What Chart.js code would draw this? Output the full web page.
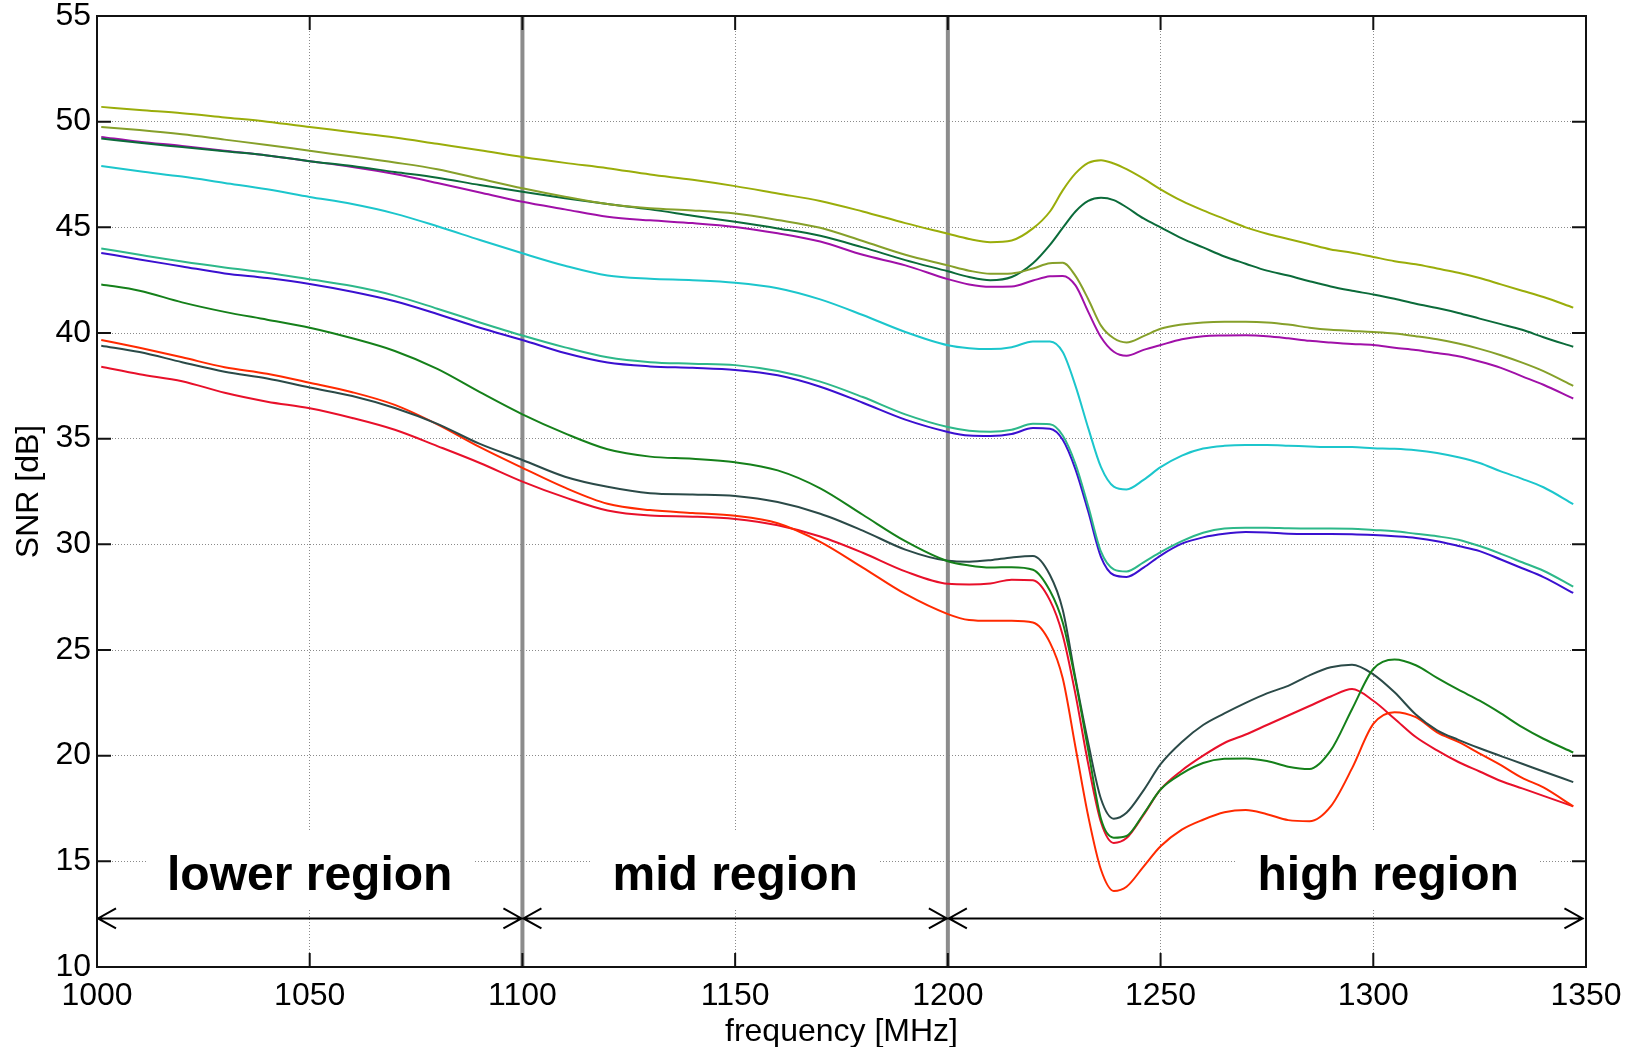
<!DOCTYPE html>
<html>
<head>
<meta charset="utf-8">
<title>SNR vs frequency</title>
<script src="https://cdn.jsdelivr.net/npm/chart.js@4.4.1/dist/chart.umd.min.js"></script>
<style>
    body { margin: 0; background: #fff; }
    canvas { display: block; }
</style>
</head>
<body>
<canvas id="snrChart" width="1640" height="1047"></canvas>
<script>
// Frequency points (MHz) shared by all curves
const freq = [1001, 1010, 1020, 1030, 1040, 1050, 1060, 1070, 1080, 1090,
    1100, 1110, 1120, 1130, 1140, 1150, 1160, 1170, 1180, 1190,
    1200, 1205, 1210, 1215, 1220, 1224, 1227, 1230, 1233, 1236,
    1239, 1242, 1246, 1250, 1255, 1260, 1265, 1270, 1275, 1280,
    1285, 1290, 1295, 1300, 1305, 1310, 1315, 1320, 1325, 1330,
    1335, 1340, 1347];

// SNR curves in dB
const snrYellow = [50.7, 50.55, 50.4, 50.2, 50.0, 49.75, 49.5, 49.25, 48.95, 48.65,
    48.33, 48.05, 47.8, 47.5, 47.25, 46.95, 46.6, 46.25, 45.75, 45.2,
    44.7, 44.45, 44.3, 44.38, 44.95, 45.75, 46.75, 47.55, 48.05, 48.18,
    48.02, 47.75, 47.3, 46.8, 46.25, 45.8, 45.4, 45.0, 44.7, 44.45,
    44.2, 43.95, 43.8, 43.6, 43.4, 43.25, 43.05, 42.85, 42.6, 42.3,
    42.0, 41.7, 41.2];
const snrOlive = [49.75, 49.6, 49.4, 49.15, 48.9, 48.62, 48.35, 48.07, 47.75, 47.3,
    46.85, 46.45, 46.1, 45.9, 45.8, 45.65, 45.35, 44.98, 44.35, 43.7,
    43.2, 42.95, 42.8, 42.82, 43.05, 43.3, 43.32, 42.7, 41.6, 40.35,
    39.75, 39.55, 39.85, 40.2, 40.4, 40.5, 40.53, 40.53, 40.5, 40.4,
    40.25, 40.15, 40.1, 40.05, 39.98, 39.85, 39.7, 39.5, 39.25, 38.95,
    38.6, 38.2, 37.5];
const snrDarkGreen = [49.2, 49.0, 48.8, 48.6, 48.4, 48.13, 47.9, 47.62, 47.35, 47.0,
    46.68, 46.38, 46.1, 45.85, 45.55, 45.26, 44.95, 44.6, 44.05, 43.45,
    42.92, 42.65, 42.5, 42.65, 43.3, 44.17, 44.97, 45.75, 46.25, 46.4,
    46.29, 45.95, 45.42, 45.0, 44.48, 44.05, 43.62, 43.28, 42.95, 42.72,
    42.45, 42.2, 42.0, 41.82, 41.62, 41.38, 41.18, 40.95, 40.68, 40.42,
    40.15, 39.8, 39.35];
const snrPurple = [49.28, 49.05, 48.85, 48.62, 48.4, 48.13, 47.85, 47.52, 47.1, 46.65,
    46.21, 45.85, 45.5, 45.33, 45.2, 45.02, 44.72, 44.33, 43.7, 43.2,
    42.55, 42.3, 42.19, 42.2, 42.48, 42.68, 42.7, 42.25, 41.0, 39.8,
    39.11, 38.92, 39.2, 39.43, 39.7, 39.85, 39.88, 39.89, 39.85, 39.75,
    39.63, 39.55, 39.48, 39.43, 39.3, 39.2, 39.05, 38.9, 38.65, 38.35,
    37.95, 37.55, 36.9];
const snrCyan = [47.9, 47.65, 47.4, 47.1, 46.8, 46.44, 46.1, 45.65, 45.05, 44.4,
    43.77, 43.18, 42.72, 42.57, 42.5, 42.38, 42.12, 41.59, 40.85, 40.05,
    39.42, 39.28, 39.24, 39.33, 39.6, 39.6, 39.1, 37.5, 35.5, 33.65,
    32.73, 32.6, 33.05, 33.65, 34.2, 34.53, 34.66, 34.7, 34.7, 34.67,
    34.63, 34.6, 34.6, 34.55, 34.52, 34.45, 34.32, 34.12, 33.85, 33.45,
    33.1, 32.7, 31.9];
const snrTeal = [44.0, 43.7, 43.38, 43.1, 42.85, 42.54, 42.22, 41.77, 41.15, 40.5,
    39.88, 39.32, 38.85, 38.62, 38.55, 38.48, 38.2, 37.7, 36.97, 36.15,
    35.55, 35.38, 35.33, 35.42, 35.7, 35.68, 35.15, 33.8, 31.8, 29.65,
    28.82, 28.72, 29.15, 29.63, 30.15, 30.55, 30.75, 30.78, 30.78, 30.76,
    30.75, 30.75, 30.74, 30.68, 30.62, 30.5, 30.38, 30.22, 29.92, 29.55,
    29.15, 28.75, 28.0];
const snrBlue = [43.79, 43.48, 43.15, 42.82, 42.6, 42.32, 41.95, 41.5, 40.9, 40.25,
    39.67, 39.05, 38.6, 38.42, 38.35, 38.25, 38.0, 37.46, 36.7, 35.9,
    35.32, 35.15, 35.13, 35.22, 35.5, 35.47, 34.95, 33.55, 31.55, 29.4,
    28.55, 28.46, 28.9, 29.47, 30.03, 30.33, 30.5, 30.58, 30.56, 30.5,
    30.49, 30.49, 30.48, 30.44, 30.38, 30.3, 30.15, 29.92, 29.68, 29.28,
    28.87, 28.45, 27.7];
const snrGreen = [42.3, 42.0, 41.45, 41.0, 40.63, 40.25, 39.75, 39.15, 38.3, 37.2,
    36.15, 35.25, 34.5, 34.15, 34.05, 33.88, 33.5, 32.65, 31.4, 30.15,
    29.2, 29.0, 28.9, 28.92, 28.8, 27.8, 26.3, 23.55, 20.25, 17.0,
    16.12, 16.2, 17.24, 18.4, 19.15, 19.65, 19.85, 19.87, 19.75, 19.48,
    19.37, 20.25, 22.2, 24.1, 24.55, 24.28, 23.68, 23.12, 22.6, 22.0,
    21.35, 20.8, 20.15];
const snrSlate = [39.4, 39.1, 38.62, 38.17, 37.85, 37.42, 37.02, 36.45, 35.7, 34.75,
    33.99, 33.2, 32.72, 32.42, 32.36, 32.29, 32.0, 31.45, 30.65, 29.75,
    29.22, 29.18, 29.25, 29.38, 29.45, 28.55, 26.9, 23.65, 20.6, 17.95,
    17.02, 17.3, 18.36, 19.6, 20.65, 21.45, 22.0, 22.5, 22.95, 23.3,
    23.8, 24.18, 24.3, 23.85, 23.0, 21.95, 21.2, 20.75, 20.35, 19.98,
    19.62, 19.25, 18.75];
const snrOrange = [39.67, 39.3, 38.85, 38.38, 38.07, 37.65, 37.2, 36.6, 35.68, 34.6,
    33.62, 32.68, 31.92, 31.62, 31.48, 31.35, 31.0, 30.12, 28.9, 27.65,
    26.7, 26.42, 26.38, 26.38, 26.3, 25.35, 23.66, 20.4, 17.13, 14.6,
    13.6, 13.8, 14.75, 15.71, 16.5, 16.97, 17.32, 17.43, 17.23, 16.95,
    16.9, 17.6, 19.4, 21.5, 22.06, 21.82, 21.1, 20.65, 20.1, 19.55,
    18.95, 18.5, 17.6];
const snrRed = [38.4, 38.05, 37.72, 37.17, 36.75, 36.44, 35.98, 35.42, 34.65, 33.85,
    32.97, 32.22, 31.6, 31.36, 31.31, 31.2, 30.9, 30.37, 29.6, 28.72,
    28.13, 28.1, 28.15, 28.33, 28.3, 27.35, 25.7, 22.9, 19.6, 16.85,
    15.87, 16.1, 17.2, 18.4, 19.3, 20.0, 20.6, 21.0, 21.45, 21.9,
    22.35, 22.8, 23.15, 22.6, 21.75, 20.88, 20.25, 19.7, 19.25, 18.8,
    18.45, 18.1, 17.6];

// Axis ticks
const xTicks = [1000, 1050, 1100, 1150, 1200, 1250, 1300, 1350];
const yTicks = [10, 15, 20, 25, 30, 35, 40, 45, 50, 55];

// Region annotations
const regionLabels = ['lower region', 'mid region', 'high region'];
const regionCenters = [1050, 1150, 1303.5];
const regionArrows = [[1000, 1100], [1100, 1200], [1200, 1349.4]];
const regionDividers = [1100, 1200];
const labelLevel = 13.66;  // text baseline, dB
const arrowLevel = 12.3;   // arrow line, dB

const FONT = '"Liberation Sans", Arial, Helvetica, sans-serif';

const curves = [
    { data: snrYellow, color: '#9aad0a' },
    { data: snrOlive, color: '#86a02a' },
    { data: snrDarkGreen, color: '#0b6b3a' },
    { data: snrPurple, color: '#a010a8' },
    { data: snrCyan, color: '#1cc6cc' },
    { data: snrTeal, color: '#2db88a' },
    { data: snrBlue, color: '#3a10d0' },
    { data: snrGreen, color: '#15801a' },
    { data: snrSlate, color: '#2b4a48' },
    { data: snrOrange, color: '#ff2a00' },
    { data: snrRed, color: '#e8102a' }
];

// Draws separators, region labels and arrows under the curves, box and inward ticks on top
const regionPlugin = {
    id: 'regions',
    beforeDatasetsDraw(chart) {
        const { ctx, chartArea: a, scales: { x, y } } = chart;
        ctx.save();

        // thick gray dividers between regions
        ctx.strokeStyle = '#8c8c8c';
        ctx.lineWidth = 4;
        regionDividers.forEach(f => {
            const px = x.getPixelForValue(f);
            ctx.beginPath();
            ctx.moveTo(px, a.top);
            ctx.lineTo(px, a.bottom);
            ctx.stroke();
        });

        // labels on white boxes (they hide the grid behind them)
        ctx.font = 'bold 48px ' + FONT;
        ctx.textAlign = 'center';
        ctx.textBaseline = 'alphabetic';
        const by = y.getPixelForValue(labelLevel);
        regionLabels.forEach((text, i) => {
            const cx = x.getPixelForValue(regionCenters[i]);
            const w = ctx.measureText(text).width;
            ctx.fillStyle = '#fff';
            ctx.fillRect(cx - w / 2 - 21, by - 58, w + 42, 78);
            ctx.fillStyle = '#000';
            ctx.fillText(text, cx, by);
        });

        // double headed arrows
        const ay = y.getPixelForValue(arrowLevel);
        ctx.strokeStyle = '#000';
        ctx.lineWidth = 2;
        regionArrows.forEach(([f0, f1]) => {
            const x0 = x.getPixelForValue(f0);
            const x1 = x.getPixelForValue(f1);
            ctx.beginPath();
            ctx.moveTo(x0, ay);
            ctx.lineTo(x1, ay);
            ctx.moveTo(x0 + 19, ay - 10);
            ctx.lineTo(x0 + 1, ay);
            ctx.lineTo(x0 + 19, ay + 10);
            ctx.moveTo(x1 - 19, ay - 10);
            ctx.lineTo(x1 - 1, ay);
            ctx.lineTo(x1 - 19, ay + 10);
            ctx.stroke();
        });
        ctx.restore();
    },
    afterDraw(chart) {
        const { ctx, chartArea: a, scales: { x, y } } = chart;
        ctx.save();
        ctx.strokeStyle = '#111';
        ctx.lineWidth = 2;
        ctx.strokeRect(a.left, a.top, a.right - a.left, a.bottom - a.top);
        ctx.beginPath();
        xTicks.forEach(v => {
            const px = x.getPixelForValue(v);
            ctx.moveTo(px, a.bottom); ctx.lineTo(px, a.bottom - 14);
            ctx.moveTo(px, a.top); ctx.lineTo(px, a.top + 14);
        });
        yTicks.forEach(v => {
            const py = y.getPixelForValue(v);
            ctx.moveTo(a.left, py); ctx.lineTo(a.left + 14, py);
            ctx.moveTo(a.right, py); ctx.lineTo(a.right - 14, py);
        });
        ctx.stroke();
        ctx.restore();
    }
};

Chart.defaults.color = '#000';
Chart.defaults.font.family = FONT;

const ctx = document.getElementById('snrChart').getContext('2d');
const snrChart = new Chart(ctx, {
    type: 'line',
    data: {
        datasets: curves.map(c => ({
            data: freq.map((f, i) => ({ x: f, y: c.data[i] })),
            borderColor: c.color,
            borderWidth: 2,
            pointRadius: 0,
            fill: false,
            cubicInterpolationMode: 'monotone'
        }))
    },
    options: {
        responsive: false,
        animation: false,
        devicePixelRatio: 1,
        layout: { padding: { top: 16, right: 54, left: 0, bottom: 0 } },
        plugins: { legend: { display: false }, tooltip: { enabled: false } },
        scales: {
            x: {
                type: 'linear',
                min: 1000,
                max: 1350,
                afterBuildTicks: s => { s.ticks = xTicks.map(v => ({ value: v })); },
                afterFit: s => { s.height = 80; s.paddingLeft = 0; s.paddingRight = 0; },
                grid: { color: '#8a8a8a', lineWidth: 1, drawTicks: false },
                border: { display: false, dash: [1, 2] },
                ticks: { padding: 10, maxRotation: 0, autoSkip: false, font: { size: 32 }, callback: v => String(v) },
                title: { display: true, text: 'frequency [MHz]', font: { size: 32, lineHeight: 0.9 }, padding: { top: 0, bottom: 0.5 } }
            },
            y: {
                min: 10,
                max: 55,
                afterBuildTicks: s => { s.ticks = yTicks.map(v => ({ value: v })); },
                afterFit: s => { s.width = 97; s.paddingTop = 0; s.paddingBottom = 0; },
                grid: { color: '#8a8a8a', lineWidth: 1, drawTicks: false },
                border: { display: false, dash: [1, 2] },
                ticks: { padding: 6, font: { size: 32 }, callback: v => String(v) },
                title: { display: true, text: 'SNR [dB]', font: { size: 32 }, padding: { top: 10, bottom: 0 } }
            }
        }
    },
    plugins: [regionPlugin]
});
</script>
</body>
</html>
